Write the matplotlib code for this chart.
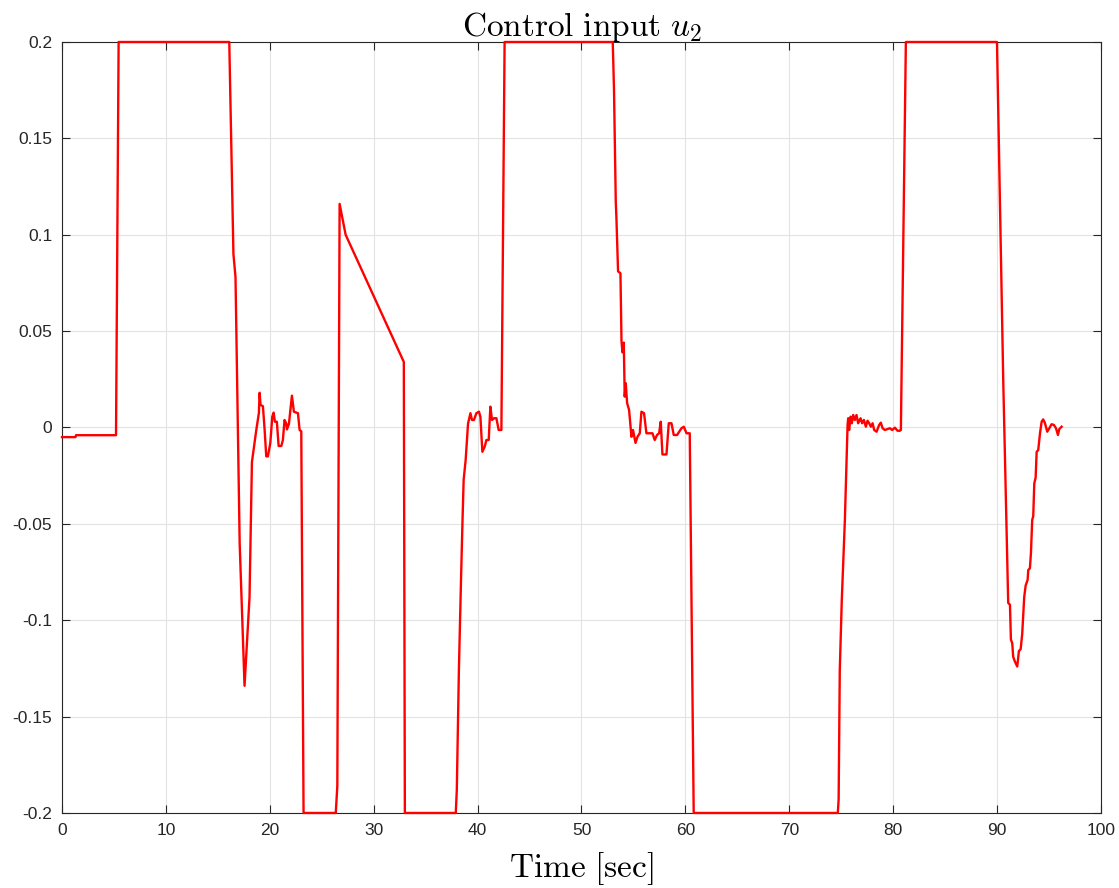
import matplotlib

matplotlib.use("Agg")
import matplotlib.pyplot as plt
from matplotlib.ticker import FuncFormatter

plt.rcParams["font.family"] = ["Liberation Sans", "DejaVu Sans"]
plt.rcParams["mathtext.fontset"] = "cm"

# control input u2
time = [
    0.0, 1.3, 1.35, 5.2, 5.45, 16.1, 16.5, 16.7, 17.1, 17.57,
    18.05, 18.28, 18.7, 18.95, 19.02, 19.11, 19.34, 19.5, 19.66, 19.82,
    20.05, 20.24, 20.37, 20.49, 20.68, 20.85, 21.11, 21.26, 21.42, 21.59,
    21.65, 21.84, 22.13, 22.32, 22.71, 22.87, 23.03, 23.25, 26.35, 26.5,
    26.72, 27.3, 32.9, 33.0, 35.0, 37.9, 38.0, 38.2, 38.4, 38.55,
    38.66, 38.85, 39.08, 39.31, 39.46, 39.65, 39.88, 40.13, 40.27, 40.46,
    40.68, 40.85, 41.07, 41.23, 41.39, 41.58, 41.81, 42.03, 42.29, 42.6,
    53.01, 53.13, 53.3, 53.36, 53.52, 53.75, 53.85, 53.94, 54.07, 54.16,
    54.26, 54.39, 54.58, 54.81, 54.96, 55.2, 55.39, 55.61, 55.77, 56.02,
    56.25, 56.57, 56.83, 57.05, 57.27, 57.47, 57.63, 57.79, 58.18, 58.4,
    58.66, 58.88, 59.2, 59.62, 59.85, 60.11, 60.42, 60.8, 74.67, 74.75,
    74.86, 75.05, 75.35, 75.61, 75.67, 75.76, 75.9, 76.02, 76.15, 76.31,
    76.47, 76.63, 76.86, 77.01, 77.18, 77.37, 77.53, 77.69, 77.85, 78.02,
    78.17, 78.4, 78.65, 78.81, 78.98, 79.2, 79.42, 79.68, 79.9, 80.16,
    80.42, 80.64, 80.74, 81.22, 89.99, 90.59, 91.07, 91.24, 91.33, 91.46,
    91.55, 91.72, 91.94, 92.1, 92.27, 92.42, 92.61, 92.75, 92.94, 93.0,
    93.16, 93.26, 93.38, 93.48, 93.58, 93.71, 93.81, 93.96, 94.13, 94.29,
    94.44, 94.61, 94.83, 95.02, 95.25, 95.47, 95.67, 95.86, 95.98, 96.21,
]
u2 = [
    -0.005, -0.005, -0.004, -0.004, 0.2, 0.2, 0.09, 0.078, -0.06, -0.134,
    -0.088, -0.018, -0.0013, 0.0075, 0.018, 0.0117, 0.011, -0.001, -0.015, -0.015,
    -0.008, 0.0056, 0.0077, 0.003, 0.003, -0.0096, -0.0096, -0.0065, 0.0039, 0.002,
    -0.001, 0.0018, 0.0165, 0.0082, 0.0074, -0.0013, -0.002, -0.2, -0.2, -0.186,
    0.116, 0.1, 0.034, -0.2, -0.2, -0.2, -0.188, -0.126, -0.08, -0.048,
    -0.027, -0.017, 0.002, 0.0074, 0.0039, 0.0039, 0.0074, 0.0082, 0.0056, -0.0126,
    -0.01, -0.0065, -0.0065, 0.0108, 0.0039, 0.0048, 0.0048, -0.0013, -0.0013, 0.2,
    0.2, 0.175, 0.117, 0.109, 0.081, 0.08, 0.045, 0.039, 0.044, 0.016,
    0.023, 0.0127, 0.0091, -0.0048, -0.0013, -0.008, -0.0048, -0.003, 0.0082, 0.0074,
    -0.003, -0.003, -0.003, -0.0065, -0.0039, -0.003, 0.003, -0.014, -0.014, 0.0022,
    0.0022, -0.0039, -0.0039, -0.0004, 0.0004, -0.003, -0.003, -0.2, -0.2, -0.193,
    -0.126, -0.09, -0.048, 0.0013, 0.0048, -0.0013, 0.0056, 0.0022, 0.0065, 0.0039,
    0.0065, 0.0022, 0.0048, 0.0022, 0.0039, 0.0004, 0.0035, 0.0022, 0.0004, 0.0022,
    -0.0013, -0.0022, 0.0013, 0.0025, -0.0004, -0.0013, -0.0009, -0.0004, -0.0013, -0.0001,
    -0.0017, -0.0017, -0.0013, 0.2, 0.2, 0.025, -0.091, -0.092, -0.11, -0.112,
    -0.119, -0.1215, -0.124, -0.116, -0.115, -0.107, -0.088, -0.082, -0.079, -0.074,
    -0.073, -0.065, -0.048, -0.046, -0.029, -0.026, -0.0126, -0.0117, -0.003, 0.003,
    0.0042, 0.0022, -0.0022, -0.0004, 0.0017, 0.0013, -0.0004, -0.0039, -0.0009, 0.0004,
]

x_ticks = [0, 10, 20, 30, 40, 50, 60, 70, 80, 90, 100]
y_ticks = [-0.2, -0.15, -0.1, -0.05, 0, 0.05, 0.1, 0.15, 0.2]

fig = plt.figure(figsize=(11.19, 8.88), dpi=100)
ax = fig.add_axes([0.0554, 0.0845, 0.9285, 0.8682])
ax.plot(time, u2, color="#ff0000", lw=1.7, clip_on=False, zorder=5)

ax.set_xlim(0, 100)
ax.set_ylim(-0.2, 0.2)
ax.set_xticks(x_ticks)
ax.set_yticks(y_ticks)
ax.yaxis.set_major_formatter(FuncFormatter(lambda v, _: f"{v:g}".replace("\u2212", "-")))
ax.grid(True, color="#e3e3e3", lw=0.8)
ax.set_axisbelow(True)
ax.tick_params(direction="in", length=6, width=0.8, top=True, right=True,
               labelsize=12.5, colors="#262626", pad=7)
for s in ax.spines.values():
    s.set_color("#262626")
    s.set_linewidth(0.8)

ax.set_title(r"$\mathrm{Control\ input}\ u_2$", fontsize=24, pad=4)
ax.set_xlabel(r"$\mathrm{Time\ [sec]}$", fontsize=24, labelpad=9)

fig.savefig("out.png", dpi=100, facecolor="white")
